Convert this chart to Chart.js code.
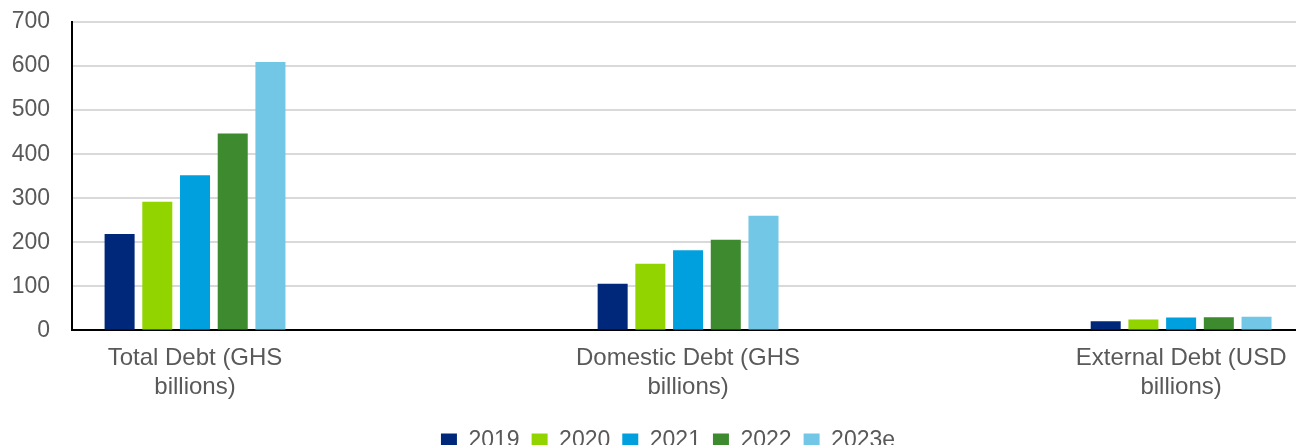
<!DOCTYPE html>
<html>
<head>
<meta charset="utf-8">
<script src="https://cdn.jsdelivr.net/npm/chart.js@4/dist/chart.umd.min.js"></script>
<style>
body{margin:0;background:#fff}
#wrap{width:1296px;height:445px}
</style>
</head>
<body>
<div id="wrap"><canvas id="debtChart"></canvas></div>
<script>
const categories = [
["Total Debt (GHS","billions)"],
["Domestic Debt (GHS","billions)"],
["External Debt (USD","billions)"]
]
const years = ["2019","2020","2021","2022","2023e"]

const d2019 = [219,106,21]
const d2020 = [292,151,25]
const d2021 = [352,182,29]
const d2022 = [447,206,30]
const d2023e = [609,260,31]

const yTicks = [0,100,200,300,400,500,600,700]

const colors = ["#00287a","#92d400","#00a0df","#3e8a2f","#72c6e6"]
const series = [d2019,d2020,d2021,d2022,d2023e]

Chart.defaults.font.family = "'Liberation Sans', Arial, sans-serif"
Chart.defaults.font.size = 23
Chart.defaults.color = "#595959"

// legend sits a bit right of centre in the original
const shiftLegend = {
id:"shiftLegend",
afterLayout(chart){
chart.legend.left += 20
chart.legend.right += 20
chart.legend.top += 1
chart.legend.bottom += 1
}
}

new Chart(document.getElementById("debtChart"),{
type:"bar",
data:{
datasets:series.map((vals,i) => ({
label:years[i],
data:vals.map((v,j) => ({x:j,y:v})),
backgroundColor:colors[i],
categoryPercentage:0.3824,
barPercentage:0.796
}))
},
options:{
responsive:true,
maintainAspectRatio:false,
animation:false,
layout:{padding:{top:22,right:0,left:0,bottom:-16}},
plugins:{
legend:{
position:"bottom",
labels:{boxWidth:16,boxHeight:14,padding:12,color:"#595959"}
},
tooltip:{enabled:false}
},
scales:{
x:{
type:"linear",
offset:false,
min:-0.2495,
max:2.233,
afterBuildTicks:s => { s.ticks = categories.map((c,i) => ({value:i})) },
afterFit:s => { s.paddingLeft = 0; s.paddingRight = 0 },
ticks:{
callback:v => categories[v],
padding:14,
maxRotation:0,
autoSkip:false,
font:{size:24},
color:"#595959"
},
grid:{display:false,drawTicks:false,offset:false},
border:{color:"#000",width:2}
},
y:{
min:0,
max:700,
afterBuildTicks:s => { s.ticks = yTicks.map(v => ({value:v})) },
afterFit:s => { s.width = 72; s.paddingTop = 0; s.paddingBottom = 0 },
ticks:{padding:22,color:"#595959"},
grid:{color:"#d9d9d9",lineWidth:2,drawTicks:false},
border:{color:"#000",width:2}
}
}
},
plugins:[shiftLegend]
})
</script>
</body>
</html>
